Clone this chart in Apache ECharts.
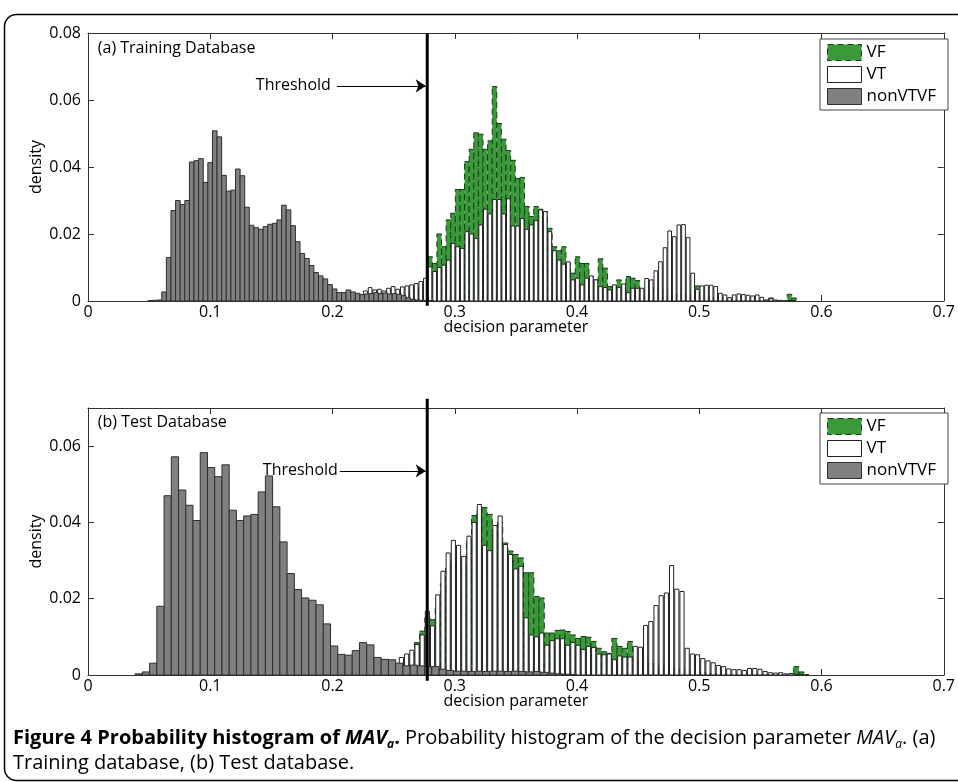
<!DOCTYPE html>
<html><head><meta charset="utf-8">
<script src="https://cdn.jsdelivr.net/npm/echarts/dist/echarts.min.js"></script>
<style>html,body{margin:0;padding:0;background:#fff}#c{width:958px;height:782px}</style>
</head><body><div id="c"></div>
<script>
// ---------- DATA ----------
const seriesNames = ['VF', 'VT', 'nonVTVF'];
const xTicks = [0, 0.1, 0.2, 0.3, 0.4, 0.5, 0.6, 0.7];
const threshold = 0.2775;

// (a) Training database
const grayA_start = 0.04902, grayA_width = 0.00377;
const grayA = [0.0001,0.0002,0.0003,0.0027,0.0130,0.0270,0.0300,0.0288,0.0300,0.0415,
  0.0419,0.0425,0.0354,0.0413,0.0508,0.0490,0.0375,0.0328,0.0331,0.0394,
  0.0374,0.0280,0.0226,0.0219,0.0214,0.0222,0.0229,0.0232,0.0242,0.0286,
  0.0272,0.0225,0.0177,0.0142,0.0127,0.0106,0.0085,0.0075,0.0066,0.0049,
  0.0036,0.0025,0.0025,0.0033,0.0027,0.0023,0.0019,0.0021,0.0022,0.0025,
  0.0022,0.0024,0.0021,0.0022,0.0020,0.0016,0.0010,0.0005,0.0003,0.0002,
  0.0001,0.0001];
const vA_start = 0.21755, vA_width = 0.00377;
const vtA = [0.0008,0.0015,0.0030,0.0040,0.0033,0.0035,0.0030,0.0038,0.0043,0.0035,
  0.0042,0.0045,0.0048,0.0052,0.0058,0.0068,
  0.0102,0.0088,0.0100,0.0107,0.0122,0.0172,0.0162,0.0157,0.0207,0.0200,0.0187,
  0.0227,0.0274,0.0260,0.0303,0.0303,0.0260,0.0305,0.0224,0.0224,0.0246,
  0.0214,0.0227,0.0240,0.0272,0.0267,0.0207,0.0150,0.0122,0.0110,0.0117,
  0.0063,0.0068,0.0048,0.0068,0.0075,0.0063,0.0043,0.0040,0.0033,0.0048,
  0.0040,0.0051,0.0025,0.0038,0.0038,0.0038,0.0067,0.0063,0.0090,0.0117,
  0.0159,0.0209,0.0192,0.0227,0.0228,0.0189,0.0083,0.0035,0.0045,0.0047,
  0.0047,0.0043,0.0023,0.0018,0.0010,0.0018,0.0021,0.0019,0.0017,0.0015,
  0.0018,0.0011,0.0003,0.0007,0.0003,0.0002,0.0001,0.0001,0.0001];
const vfA = [0,0,0,0.0005,0.0005,0.0010,0.0010,0.0010,0.0015,0.0015,
  0.0020,0.0020,0.0025,0.0030,0.0040,0.0050,
  0.0132,0.0112,0.0200,0.0162,0.0242,0.0262,0.0333,0.0333,0.0416,0.0453,0.0502,
  0.0498,0.0453,0.0478,0.0640,0.0530,0.0483,0.0449,0.0420,0.0366,0.0369,
  0.0282,0.0252,0.0282,0.0274,0.0267,0.0217,0.0162,0.0150,0.0162,0.0112,
  0.0083,0.0132,0.0112,0.0112,0.0073,0.0063,0.0126,0.0098,0.0043,0.0045,
  0.0063,0.0045,0.0073,0.0068,0.0061,0.0030,0.0035,0.0030,0.0040,0.0030,
  0.0035,0.0030,0.0020,0.0020,0.0020,0.0015,0.0030,0.0045,0.0020,0.0015,
  0.0010,0.0010,0.0008,0.0006,0.0003,0.0005,0.0004,0.0003,0.0002,0.0002,
  0.0001,0.0002,0.0002,0.0009,0.0001,0,0,0.0020,0.0009];

// (b) Test database
const grayB_start = 0.03854, grayB_width = 0.00592;
const grayB = [0.0003,0.0008,0.0031,0.0180,0.0470,0.0572,0.0485,0.0445,0.0405,0.0583,
  0.0544,0.0520,0.0551,0.0432,0.0405,0.0417,0.0421,0.0480,0.0522,0.0441,
  0.0349,0.0266,0.0224,0.0202,0.0196,0.0184,0.0134,0.0076,0.0054,0.0052,
  0.0064,0.0085,0.0079,0.0046,0.0041,0.0040,0.0031,0.0024,0.0026,0.0024,
  0.0022,0.0022,0.0015,0.0012,0.0010,0.0010,0.0009,0.0010,0.0009,0.0010,
  0.0010,0.0009,0.0010,0.0009,0.0008,0.0009,0.0007,0.0005,0.0003,0.0002,0.0001];
const vB_start = 0.24575, vB_width = 0.00425;
const vtB = [0.0010,0.0015,0.0046,0.0055,0.0065,0.0080,0.0105,0.0167,0.0129,0.0210,
  0.0272,0.0320,0.0353,0.0340,0.0311,0.0364,0.0400,0.0447,0.0340,0.0326,
  0.0392,0.0417,0.0342,0.0316,0.0278,0.0285,0.0150,0.0105,0.0100,0.0110,
  0.0078,0.0090,0.0095,0.0095,0.0078,0.0085,0.0078,0.0067,0.0075,0.0072,
  0.0055,0.0053,0.0055,0.0040,0.0050,0.0047,0.0047,0.0075,0.0073,0.0130,
  0.0140,0.0182,0.0208,0.0215,0.0287,0.0225,0.0219,0.0070,0.0055,0.0053,
  0.0043,0.0037,0.0032,0.0025,0.0022,0.0016,0.0014,0.0014,0.0012,0.0017,
  0.0017,0.0015,0.0009,0.0006,0.0005,0.0006,0.0003,0.0004,0.0002,0.0002,0.0001];
const vfB = [0,0.0003,0.0010,0.0020,0.0040,0.0085,0.0115,0.0150,0.0145,0.0180,
  0.0240,0.0280,0.0300,0.0310,0.0290,0.0350,0.0418,0.0430,0.0439,0.0421,
  0.0380,0.0400,0.0346,0.0325,0.0316,0.0307,0.0268,0.0268,0.0206,0.0202,
  0.0110,0.0110,0.0117,0.0118,0.0114,0.0105,0.0096,0.0101,0.0099,0.0088,
  0.0070,0.0061,0.0057,0.0096,0.0075,0.0070,0.0088,0.0040,0.0035,0.0040,
  0.0030,0.0030,0.0025,0.0020,0.0020,0.0015,0.0015,0.0010,0.0010,0.0008,
  0.0006,0.0005,0.0004,0.0003,0.0003,0.0002,0.0002,0.0002,0.0001,0.0001,
  0.0001,0.0001,0.0001,0,0,0,0,0,0.0022,0.0008,0];

// ---------- STYLE ----------
const FONT = '"Open Sans","Noto Sans",sans-serif';
const AX = '#333';
const TXT = '#000';
const styleVF = {fill:'#3a9a3a', stroke:'#1a3a1a', lineWidth:1, lineDash:[6,4]};
const styleVT = {fill:'#ffffff', stroke:'#222', lineWidth:1};
const styleNV = {fill:'#808080', stroke:'#2e2e2e', lineWidth:1};

function bins(start, width, vals){ return vals.map((v,i)=>[start+(i+0.5)*width, width, v]); }
function barRenderer(frac, style){
  return function(params, api){
    const h = api.value(2); if(!(h>0)) return null;
    const c = api.value(0), w = api.value(1)*frac;
    const p0 = api.coord([c-w/2, h]), p1 = api.coord([c+w/2, 0]);
    return {type:'rect', shape:{x:p0[0], y:p0[1], width:p1[0]-p0[0], height:p1[1]-p0[1]}, style:Object.assign({}, style)};
  };
}
function histSeries(name, gi, data, frac, st, itemStyle){
  return {type:'custom', name:name, xAxisIndex:gi*2, yAxisIndex:gi*2, data:data,
    encode:{x:0, y:2}, renderItem:barRenderer(frac, st), itemStyle:itemStyle, silent:true};
}
const isVF = {color:'#3a9a3a', borderColor:'#1a3a1a', borderWidth:1, borderType:[6,4]};
const isVT = {color:'#ffffff', borderColor:'#222', borderWidth:1};
const isNV = {color:'#808080', borderColor:'#2e2e2e', borderWidth:1};

function xAxes(gi){
  const base = {type:'value', gridIndex:gi, min:xTicks[0], max:xTicks[xTicks.length-1], interval:0.1,
    axisLine:{show:true, onZero:false, lineStyle:{color:AX, width:1}},
    axisTick:{show:true, inside:true, length:6, lineStyle:{color:AX}},
    splitLine:{show:false}};
  return [
    Object.assign({}, base, {position:'bottom', axisLabel:{margin:3, fontSize:16, color:TXT, fontFamily:FONT},
      name:'decision parameter', nameLocation:'middle', nameGap:18, nameMoveOverlap:false,
      nameTextStyle:{fontSize:16, color:TXT, fontFamily:FONT}}),
    Object.assign({}, base, {position:'top', axisLabel:{show:false}})
  ];
}
function yAxes(gi, max, showMax){
  const base = {type:'value', gridIndex:gi, min:0, max:max, interval:0.02,
    axisLine:{show:true, onZero:false, lineStyle:{color:AX, width:1}},
    axisTick:{show:true, inside:true, length:6, lineStyle:{color:AX}},
    splitLine:{show:false}};
  return [
    Object.assign({}, base, {position:'left', axisLabel:{margin:7, fontSize:16, color:TXT, fontFamily:FONT, showMaxLabel:showMax},
      name:'density', nameLocation:'middle', nameGap:44, nameMoveOverlap:false,
      nameTextStyle:{fontSize:16, color:TXT, fontFamily:FONT}}),
    Object.assign({}, base, {position:'right', axisLabel:{show:false}})
  ];
}
function textSeries(gi, pt, txt){
  return {type:'scatter', xAxisIndex:gi*2, yAxisIndex:gi*2, symbolSize:0, silent:true, data:[pt],
    itemStyle:{opacity:1},
    label:{show:true, position:'right', distance:0, formatter:txt, fontSize:16, color:TXT, opacity:1, fontFamily:FONT}};
}
function thresholdSeries(gi, yTop, yBot, arrowFrom, arrowY){
  return {type:'line', xAxisIndex:gi*2, yAxisIndex:gi*2, clip:false, silent:true, symbol:'none',
    data:[[threshold, yTop],[threshold, yBot]], lineStyle:{color:'#000', width:3}, z:5,
    markLine:{silent:true, symbol:['none','arrow'], symbolSize:10, label:{show:false},
      lineStyle:{color:'#000', width:1, type:'solid'},
      data:[[{coord:[arrowFrom, arrowY]},{coord:[threshold-0.0012, arrowY]}]]}};
}
function legendFor(top){
  return {orient:'vertical', left:820, top:top, itemWidth:34, itemHeight:16, itemGap:5,
    padding:[5,12,5,7], borderColor:'#444', borderWidth:1, backgroundColor:'#fff',
    selectedMode:false, icon:'rect',
    textStyle:{fontSize:17, color:TXT, fontFamily:FONT},
    data:[{name:'VF', itemStyle:isVF},{name:'VT', itemStyle:isVT},{name:'nonVTVF', itemStyle:isNV}]};
}

const CAP = 20;
const option = {
  animation:false,
  backgroundColor:'#fff',
  grid:[{left:88, top:33, width:867, height:268},{left:88, top:408, width:867, height:267}],
  xAxis:[...xAxes(0), ...xAxes(1)],
  yAxis:[...yAxes(0, 0.08, true), ...yAxes(1, 0.07, false)],
  legend:[legendFor(39), legendFor(413)],
  title:{left:8, top:721, itemGap:0,
    text:'{b|Figure 4 Probability histogram of }{bi|MAV}{bs|a}{b|. }{n|Probability histogram of the decision parameter }{i|MAV}{is|a}{n|. (a)}\n{n|Training database, (b) Test database.}',
    textStyle:{fontWeight:'normal', rich:{
      b:{fontFamily:FONT, fontWeight:'bold', fontSize:CAP, color:TXT, lineHeight:25},
      bi:{fontFamily:FONT, fontWeight:'bold', fontStyle:'italic', fontSize:CAP, color:TXT, lineHeight:25},
      bs:{fontFamily:FONT, fontWeight:'bold', fontStyle:'italic', fontSize:12, color:TXT, lineHeight:14, verticalAlign:'bottom'},
      n:{fontFamily:FONT, fontWeight:'normal', fontSize:CAP, color:TXT, lineHeight:25},
      i:{fontFamily:FONT, fontWeight:'normal', fontStyle:'italic', fontSize:CAP, color:TXT, lineHeight:25},
      is:{fontFamily:FONT, fontWeight:'normal', fontStyle:'italic', fontSize:12, color:TXT, lineHeight:14, verticalAlign:'bottom'}
    }}},
  graphic:[{type:'rect', left:2, top:12, shape:{width:1000, height:766, r:12},
    style:{fill:'none', stroke:'#000', lineWidth:1.5}, silent:true, z:-1}],
  series:[
    histSeries('VF', 0, bins(vA_start, vA_width, vfA), 1, styleVF, isVF),
    histSeries('VT', 0, bins(vA_start, vA_width, vtA), 0.8, styleVT, isVT),
    histSeries('nonVTVF', 0, bins(grayA_start, grayA_width, grayA), 1, styleNV, isNV),
    thresholdSeries(0, 0.08, -0.0014, 0.2036, 0.0642),
    textSeries(0, [0.1373, 0.0642], 'Threshold'),
    textSeries(0, [0.008, 0.0755], '(a) Training Database'),
    histSeries('VF', 1, bins(vB_start, vB_width, vfB), 1, styleVF, isVF),
    histSeries('VT', 1, bins(vB_start, vB_width, vtB), 0.8, styleVT, isVT),
    histSeries('nonVTVF', 1, bins(grayB_start, grayB_width, grayB), 1, styleNV, isNV),
    thresholdSeries(1, 0.0724, -0.0015, 0.206, 0.0535),
    textSeries(1, [0.143, 0.0535], 'Threshold'),
    textSeries(1, [0.008, 0.0661], '(b) Test Database')
  ]
};
const chart = echarts.init(document.getElementById('c'));
chart.setOption(option);
</script></body></html>
